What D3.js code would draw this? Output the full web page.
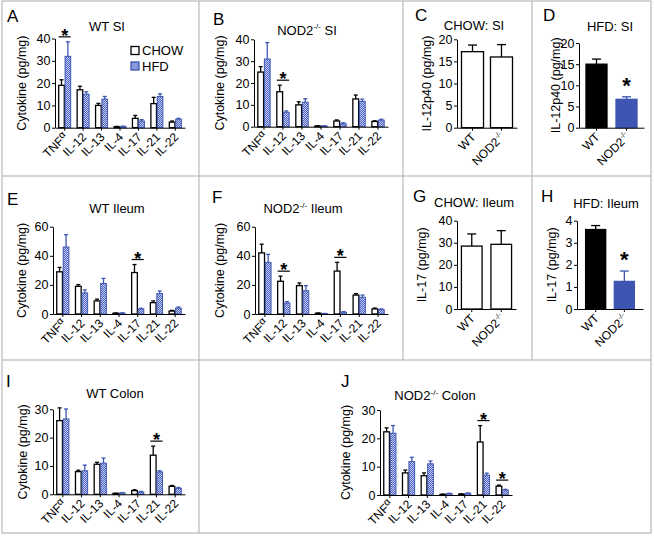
<!DOCTYPE html>
<html>
<head>
<meta charset="utf-8">
<script src="https://cdn.jsdelivr.net/npm/d3@7"></script>
<style>
  body { margin: 0; background: #fff; }
  text { font-family: "Liberation Sans", Arial, sans-serif; }
</style>
</head>
<body>
<div id="chart"></div>
<script>
// categories
const cytokines = ["TNFα", "IL-12", "IL-13", "IL-4", "IL-17", "IL-21", "IL-22"];
const genotypes = ["WT", "NOD2-/-"];
const diets = ["CHOW", "HFD"];

// A: WT small intestine
const wtSiChow = [19, 17, 10, 0.4, 4.2, 10.8, 2.5];
const wtSiChowSem = [2.5, 1.6, 0.9, 0.2, 1.3, 2.8, 0.5];
const wtSiHfd = [32, 15, 12.8, 0.5, 3, 14, 3.8];
const wtSiHfdSem = [6.5, 1.1, 1.2, 0.2, 0.6, 1.2, 0.4];
const wtSiSig = ["TNFα"];

// B: NOD2-/- small intestine
const koSiChow = [25, 16, 10, 0.3, 2.6, 12.7, 2.4];
const koSiChowSem = [2.5, 3, 1.4, 0.1, 0.5, 1.8, 0.3];
const koSiHfd = [31, 6.6, 11.2, 0.3, 1.3, 11.6, 3];
const koSiHfdSem = [7.5, 0.6, 1.6, 0.1, 0.5, 1, 0.4];
const koSiSig = ["IL-12"];

// E: WT ileum
const wtIlChow = [29, 19, 9, 0.5, 28.5, 7.8, 2];
const wtIlChowSem = [3, 1.2, 1.2, 0.2, 5.5, 1.2, 0.5];
const wtIlHfd = [46, 14.5, 21, 0.6, 3.5, 14, 4];
const wtIlHfdSem = [8.5, 2, 3.5, 0.2, 0.4, 1.8, 0.8];
const wtIlSig = ["IL-17"];

// F: NOD2-/- ileum
const koIlChow = [42, 22.5, 19.5, 0.5, 29.5, 13, 3.5];
const koIlChowSem = [6, 3.5, 1.8, 0.2, 6, 1, 0.6];
const koIlHfd = [35.5, 7.5, 16, 0.3, 1.2, 11.5, 3];
const koIlHfdSem = [5.5, 1, 3.5, 0.1, 0.4, 1.5, 0.5];
const koIlSig = ["IL-12", "IL-17"];

// I: WT colon
const wtCoChow = [26, 8, 10.6, 0.3, 1.3, 13.8, 2.8];
const wtCoChowSem = [4.5, 0.5, 0.7, 0.1, 0.3, 3.2, 0.3];
const wtCoHfd = [26.6, 8.3, 11, 0.5, 0.8, 7.9, 2.1];
const wtCoHfdSem = [3.5, 2, 1.8, 0.1, 0.2, 0.4, 0.3];
const wtCoSig = ["IL-21"];

// J: NOD2-/- colon
const koCoChow = [22.3, 7.8, 6.8, 0.2, 0.3, 18.7, 3.1];
const koCoChowSem = [1.4, 1, 1, 0.1, 0.1, 5.8, 0.4];
const koCoHfd = [21.8, 11.8, 11, 0.5, 0.6, 7, 1.7];
const koCoHfdSem = [2.7, 1.5, 1, 0.1, 0.1, 0.7, 0.3];
const koCoSig = ["IL-21", "IL-22"];

// C, D: IL-12p40 small intestine (WT, NOD2-/-)
const siIl12Chow = [17.2, 16];
const siIl12ChowSem = [1.5, 2.8];
const siIl12Hfd = [15, 6.7];
const siIl12HfdSem = [1.2, 0.6];
const siIl12HfdSig = ["NOD2-/-"];

// G, H: IL-17 ileum (WT, NOD2-/-)
const ilIl17Chow = [28.5, 29.3];
const ilIl17ChowSem = [5.5, 6.2];
const ilIl17Hfd = [3.6, 1.25];
const ilIl17HfdSem = [0.18, 0.47];
const ilIl17HfdSig = ["NOD2-/-"];

// tick labels
const ticks40 = [0, 10, 20, 30, 40];
const ticks20 = [0, 5, 10, 15, 20];
const ticks60 = [0, 20, 40, 60];
const ticks30 = [0, 10, 20, 30];
const ticks4 = [0, 1, 2, 3, 4];

const BLUE = "#3e56b2";
const GRID = "#ababab";
const TICK_FS = 12.5;
const CAT_FS = 12;
const LAB_FS = 12.5;
const TITLE_FS = 13;

const svg = d3.select("#chart").append("svg")
    .attr("width", 654)
    .attr("height", 536);

// checkered fill for HFD bars
const pat = svg.append("defs").append("pattern")
    .attr("id", "hfdFill")
    .attr("width", 2).attr("height", 2)
    .attr("patternUnits", "userSpaceOnUse");
pat.append("rect").attr("width", 2).attr("height", 2).attr("fill", "#4b62c4");
pat.append("rect").attr("width", 1).attr("height", 1).attr("fill", "#c6cdf0");
pat.append("rect").attr("x", 1).attr("y", 1).attr("width", 1).attr("height", 1).attr("fill", "#c6cdf0");

// panel frame
const frame = svg.append("g").attr("stroke", GRID).attr("fill", "none");
frame.append("rect").attr("x", 2).attr("y", 1).attr("width", 649).attr("height", 532);
frame.append("line").attr("x1", 2).attr("x2", 651).attr("y1", 176).attr("y2", 176);
frame.append("line").attr("x1", 2).attr("x2", 651).attr("y1", 360).attr("y2", 360);
frame.append("line").attr("x1", 199).attr("x2", 199).attr("y1", 1).attr("y2", 533);
frame.append("line").attr("x1", 403).attr("x2", 403).attr("y1", 1).attr("y2", 360);
frame.append("line").attr("x1", 532).attr("x2", 532).attr("y1", 1).attr("y2", 360);

// text with superscript -/- or raised alpha
function richText(t, str, fs) {
    t.text(null);
    if (str.includes("-/-")) {
        const parts = str.split("-/-");
        t.append("tspan").text(parts[0]);
        t.append("tspan").attr("font-size", fs * 0.62).attr("dy", -fs * 0.4).text("-/-");
        if (parts[1]) t.append("tspan").attr("dy", fs * 0.4).text(parts[1]);
    } else if (str.endsWith("α")) {
        t.append("tspan").text(str.slice(0, -1));
        t.append("tspan").attr("font-size", fs * 0.85).attr("dy", -fs * 0.3).text("α");
    } else {
        t.text(str);
    }
}

function labels(g, p) {
    g.append("text")
        .attr("x", p.lx).attr("y", p.ly)
        .attr("font-size", 17)
        .text(p.letter);
    g.append("text")
        .attr("x", p.tx).attr("y", p.ty)
        .attr("font-size", TITLE_FS)
        .attr("text-anchor", "middle")
        .call(t => richText(t, p.title, TITLE_FS));
    g.append("text")
        .attr("transform", `translate(${p.ylx},${(p.y0 + p.yTop) / 2}) rotate(-90)`)
        .attr("font-size", LAB_FS)
        .attr("text-anchor", "middle")
        .attr("dy", "0.35em")
        .text(p.ylabel);
}

function axes(g, p, x, y) {
    g.append("g")
        .attr("transform", `translate(${p.x0},0)`)
        .call(d3.axisLeft(y).tickValues(p.ticks).tickFormat(d3.format("d"))
            .tickSize(3).tickSizeOuter(0).tickPadding(1.5))
        .call(a => a.selectAll("text").attr("font-size", TICK_FS).attr("font-family", null));

    const xa = g.append("g")
        .attr("transform", `translate(0,${p.y0})`)
        .call(d3.axisBottom(x).tickSize(3).tickSizeOuter(0).tickFormat(""));
    xa.selectAll(".tick").append("text")
        .attr("fill", "#000")
        .attr("font-size", CAT_FS)
        .attr("text-anchor", "end")
        .attr("transform", "translate(4,10) rotate(-45)")
        .each(function(d) { richText(d3.select(this), d, CAT_FS); });
}

function errBar(g, cx, yv, ye, half, color) {
    g.append("line").attr("x1", cx).attr("x2", cx).attr("y1", yv).attr("y2", ye)
        .attr("stroke", color).attr("stroke-width", 1.3);
    g.append("line").attr("x1", cx - half).attr("x2", cx + half).attr("y1", ye).attr("y2", ye)
        .attr("stroke", color).attr("stroke-width", 1.3);
}

// grouped cytokine panel (CHOW vs HFD)
function grouped(p) {
    const g = svg.append("g");
    const x = d3.scaleBand().domain(cytokines).range([p.x0, p.x1]).paddingInner(0.35).paddingOuter(0.2);
    const xs = d3.scaleBand().domain(diets).range([0, x.bandwidth()]).paddingInner(0.12);
    const y = d3.scaleLinear().domain([0, d3.max(p.ticks)]).range([p.y0, p.yTop]);

    const series = [
        {diet: "CHOW", vals: p.chow, sem: p.chowSem, fill: "#fff", stroke: "#000"},
        {diet: "HFD", vals: p.hfd, sem: p.hfdSem, fill: "url(#hfdFill)", stroke: BLUE}
    ];
    series.forEach(s => {
        cytokines.forEach((c, i) => {
            const bx = x(c) + xs(s.diet);
            const cx = bx + xs.bandwidth() / 2;
            errBar(g, cx, y(s.vals[i]), y(s.vals[i] + s.sem[i]), 2, s.stroke);
            g.append("rect")
                .attr("x", bx).attr("y", y(s.vals[i]))
                .attr("width", xs.bandwidth())
                .attr("height", y(0) - y(s.vals[i]))
                .attr("fill", s.fill)
                .attr("stroke", s.stroke)
                .attr("stroke-width", s.diet === "CHOW" ? 1.3 : 1);
        });
    });

    axes(g, p, x, y);

    p.sig.forEach(c => {
        const i = cytokines.indexOf(c);
        const top = Math.max(p.chow[i] + p.chowSem[i], p.hfd[i] + p.hfdSem[i]);
        const ly = y(top) - 5;
        g.append("line")
            .attr("x1", x(c)).attr("x2", x(c) + x.bandwidth())
            .attr("y1", ly).attr("y2", ly)
            .attr("stroke", "#000").attr("stroke-width", 1.2);
        g.append("text")
            .attr("x", x(c) + x.bandwidth() / 2).attr("y", ly + 5)
            .attr("text-anchor", "middle")
            .attr("font-size", 18).attr("font-weight", "bold")
            .text("*");
    });

    if (p.legend) {
        const lg = g.append("g").attr("transform", `translate(${p.legend[0]},${p.legend[1]})`);
        series.forEach((s, k) => {
            lg.append("rect")
                .attr("x", 0).attr("y", k * 15.5)
                .attr("width", 8).attr("height", 8)
                .attr("fill", s.fill).attr("stroke", s.stroke).attr("stroke-width", 1.3);
            lg.append("text")
                .attr("x", 11).attr("y", k * 15.5 + 4)
                .attr("dy", "0.36em")
                .attr("font-size", 13)
                .text(s.diet);
        });
    }
    labels(g, p);
}

// two-bar panel (WT vs NOD2-/-)
function pair(p) {
    const g = svg.append("g");
    const x = d3.scaleBand().domain(genotypes).range([p.x0, p.x1]).paddingInner(p.pad).paddingOuter(p.outer);
    const y = d3.scaleLinear().domain([0, d3.max(p.ticks)]).range([p.y0, p.yTop]);

    genotypes.forEach((gt, i) => {
        const cx = x(gt) + x.bandwidth() / 2;
        errBar(g, cx, y(p.vals[i]), y(p.vals[i] + p.sem[i]), 4.5, p.stroke[i]);
        g.append("rect")
            .attr("x", x(gt)).attr("y", y(p.vals[i]))
            .attr("width", x.bandwidth())
            .attr("height", y(0) - y(p.vals[i]))
            .attr("fill", p.fill[i])
            .attr("stroke", p.stroke[i])
            .attr("stroke-width", 1.3);
    });

    axes(g, p, x, y);

    p.sig.forEach(gt => {
        const i = genotypes.indexOf(gt);
        g.append("text")
            .attr("x", x(gt) + x.bandwidth() / 2)
            .attr("y", y(p.vals[i] + p.sem[i]) - 4)
            .attr("text-anchor", "middle")
            .attr("font-size", 22).attr("font-weight", "bold")
            .text("*");
    });
    labels(g, p);
}

const cytoLabel = "Cytokine (pg/mg)";

grouped({letter: "A", lx: 7, ly: 22, title: "WT SI", tx: 107, ty: 30.5,
    x0: 55, x1: 185, yTop: 38.5, y0: 127.7, ticks: ticks40, ylx: 22, ylabel: cytoLabel,
    chow: wtSiChow, chowSem: wtSiChowSem, hfd: wtSiHfd, hfdSem: wtSiHfdSem, sig: wtSiSig, legend: [131, 46.5]});
grouped({letter: "B", lx: 213, ly: 25, title: "NOD2-/- SI", tx: 307, ty: 34.5,
    x0: 254, x1: 388, yTop: 39.3, y0: 126.7, ticks: ticks40, ylx: 220, ylabel: cytoLabel,
    chow: koSiChow, chowSem: koSiChowSem, hfd: koSiHfd, hfdSem: koSiHfdSem, sig: koSiSig});
grouped({letter: "E", lx: 7, ly: 205, title: "WT Ileum", tx: 117, ty: 212.7,
    x0: 53, x1: 185, yTop: 226.7, y0: 314, ticks: ticks60, ylx: 22, ylabel: cytoLabel,
    chow: wtIlChow, chowSem: wtIlChowSem, hfd: wtIlHfd, hfdSem: wtIlHfdSem, sig: wtIlSig});
grouped({letter: "F", lx: 212, ly: 203, title: "NOD2-/- Ileum", tx: 303, ty: 213,
    x0: 255, x1: 388, yTop: 226.7, y0: 314, ticks: ticks60, ylx: 220, ylabel: cytoLabel,
    chow: koIlChow, chowSem: koIlChowSem, hfd: koIlHfd, hfdSem: koIlHfdSem, sig: koIlSig});
grouped({letter: "I", lx: 6, ly: 387, title: "WT Colon", tx: 115, ty: 398,
    x0: 53, x1: 185, yTop: 409.3, y0: 494.3, ticks: ticks30, ylx: 23, ylabel: cytoLabel,
    chow: wtCoChow, chowSem: wtCoChowSem, hfd: wtCoHfd, hfdSem: wtCoHfdSem, sig: wtCoSig});
grouped({letter: "J", lx: 341, ly: 387, title: "NOD2-/- Colon", tx: 435, ty: 400,
    x0: 380, x1: 512, yTop: 410, y0: 495, ticks: ticks30, ylx: 346, ylabel: cytoLabel,
    chow: koCoChow, chowSem: koCoChowSem, hfd: koCoHfd, hfdSem: koCoHfdSem, sig: koCoSig});

pair({letter: "C", lx: 415, ly: 21, title: "CHOW: SI", tx: 474, ty: 30,
    x0: 457, x1: 517, yTop: 39.3, y0: 127.7, ticks: ticks20, ylx: 427, ylabel: "IL-12p40 (pg/mg)",
    pad: 0.24, outer: 0.155, vals: siIl12Chow, sem: siIl12ChowSem,
    fill: ["#fff", "#fff"], stroke: ["#000", "#000"], sig: []});
pair({letter: "D", lx: 543, ly: 21, title: "HFD: SI", tx: 610, ty: 31,
    x0: 579, x1: 644, yTop: 43, y0: 127.7, ticks: ticks20, ylx: 556, ylabel: "IL-12p40 (pg/mg)",
    pad: 0.3, outer: 0.233, vals: siIl12Hfd, sem: siIl12HfdSem,
    fill: ["#000", BLUE], stroke: ["#000", BLUE], sig: siIl12HfdSig});
pair({letter: "G", lx: 413, ly: 202, title: "CHOW: Ileum", tx: 474, ty: 206.7,
    x0: 457, x1: 516, yTop: 220.7, y0: 309, ticks: ticks40, ylx: 422, ylabel: "IL-17 (pg/mg)",
    pad: 0.3, outer: 0.15, vals: ilIl17Chow, sem: ilIl17ChowSem,
    fill: ["#fff", "#fff"], stroke: ["#000", "#000"], sig: []});
pair({letter: "H", lx: 541, ly: 202, title: "HFD: Ileum", tx: 606, ty: 207.7,
    x0: 577, x1: 643, yTop: 220.7, y0: 309, ticks: ticks4, ylx: 552, ylabel: "IL-17 (pg/mg)",
    pad: 0.3, outer: 0.3, vals: ilIl17Hfd, sem: ilIl17HfdSem,
    fill: ["#000", BLUE], stroke: ["#000", BLUE], sig: ilIl17HfdSig});
</script>
</body>
</html>
